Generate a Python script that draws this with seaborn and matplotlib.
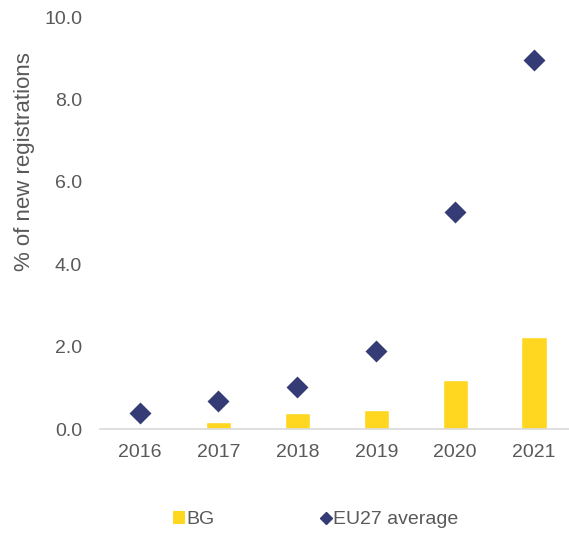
import pandas as pd
import numpy as np
import matplotlib
matplotlib.use('Agg')
import matplotlib.pyplot as plt
import seaborn as sns
from matplotlib.lines import Line2D
from matplotlib.patches import Patch

years = ['2016', '2017', '2018', '2019', '2020', '2021']
bg = [0.03, 0.17, 0.39, 0.46, 1.19, 2.23]
eu27 = [0.40, 0.68, 1.03, 1.89, 5.27, 8.96]

df = pd.DataFrame({'year': years, 'BG': bg, 'EU27 average': eu27})

sns.set_style('white')
plt.rcParams['font.family'] = ['Liberation Sans', 'DejaVu Sans']

yellow = '#FFD620'
navy = '#343B75'
grey_text = '#595959'

fig = plt.figure(figsize=(5.69, 5.33), dpi=100)
ax = fig.add_axes([0.176, 0.195, 0.832, 0.773])

sns.barplot(data=df, x='year', y='BG', color=yellow, width=0.32,
            saturation=1, ax=ax)
sns.scatterplot(x=np.arange(len(years)), y=df['EU27 average'], marker='D',
                s=125, color=navy, edgecolor=navy, linewidth=0, ax=ax, zorder=3)

ax.set_xlim(-0.5, 5.5)
ax.set_ylim(0, 10)
ax.set_yticks(np.arange(0, 10.01, 2))
ax.set_yticklabels([f'{v:.1f}' for v in np.arange(0, 10.01, 2)])
ax.set_xlabel('')
ax.set_ylabel('% of new registrations', fontsize=16, color=grey_text)
ax.yaxis.set_label_coords(-0.137, 0.65)
ax.tick_params(axis='both', labelsize=14, colors=grey_text, length=0)
ax.tick_params(axis='x', pad=11)
ax.tick_params(axis='y', pad=13)
for side in ['top', 'right', 'left']:
    ax.spines[side].set_visible(False)
ax.spines['bottom'].set_color('#D9D9D9')
ax.spines['bottom'].set_linewidth(1.2)

handles = [Patch(facecolor=yellow, edgecolor='none'),
           Line2D([], [], marker='D', linestyle='', color=navy, markersize=6)]
fig.legend(handles, ['BG', 'EU27 average'], loc='center',
           bbox_to_anchor=(0.555, 0.025), ncol=2, frameon=False,
           fontsize=14, labelcolor=grey_text, columnspacing=5.4,
           handlelength=0.6, handletextpad=0.1, handleheight=0.6)

fig.savefig('out.png', dpi=100)
